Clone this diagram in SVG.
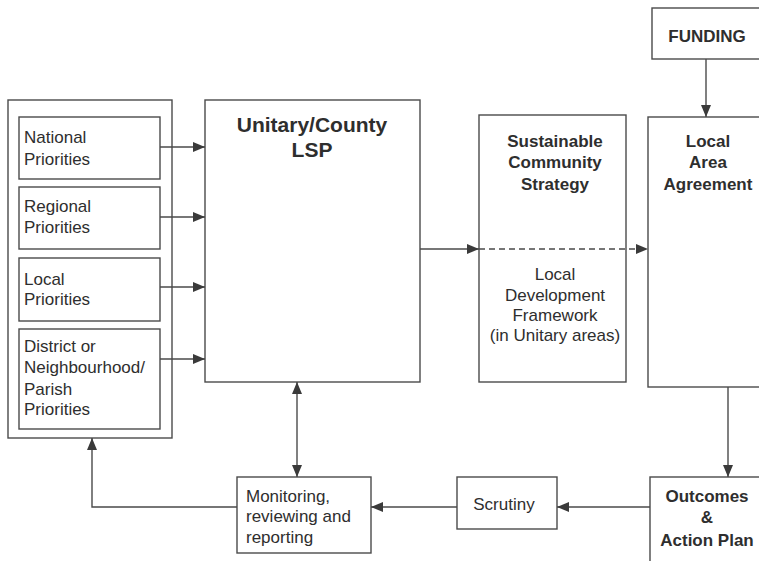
<svg xmlns="http://www.w3.org/2000/svg" width="759" height="561" viewBox="0 0 759 561">
<style>
.box{fill:none;stroke:#4a4a4a;stroke-width:1.4}
.ln{fill:none;stroke:#4a4a4a;stroke-width:1.4}
.t{font-family:"Liberation Sans",Arial,sans-serif;font-size:17px;fill:#2e2e2e}
.b{font-family:"Liberation Sans",Arial,sans-serif;font-size:17px;font-weight:bold;fill:#2e2e2e}
.c{text-anchor:middle}
</style>
<defs>
<marker id="ah" markerWidth="12" markerHeight="10" refX="12" refY="5" orient="auto" markerUnits="userSpaceOnUse">
<path d="M0,0 L12,5 L0,10 Z" fill="#3a3a3a"/>
</marker>
<marker id="as" markerWidth="12" markerHeight="10" refX="0" refY="5" orient="auto" markerUnits="userSpaceOnUse">
<path d="M12,0 L0,5 L12,10 Z" fill="#3a3a3a"/>
</marker>
</defs>
<rect width="759" height="561" fill="#ffffff"/>

<g id="priorities">
<rect class="box" x="8" y="100" width="164" height="338"/>
</g>
<g id="national">
<rect class="box" x="19" y="117" width="141" height="62"/>
<text class="t" x="24" y="143">National</text>
<text class="t" x="24" y="165">Priorities</text>
</g>
<g id="regional">
<rect class="box" x="19" y="187" width="141" height="62"/>
<text class="t" x="24" y="212">Regional</text>
<text class="t" x="24" y="233">Priorities</text>
</g>
<g id="local">
<rect class="box" x="19" y="258" width="141" height="63"/>
<text class="t" x="24" y="285">Local</text>
<text class="t" x="24" y="305">Priorities</text>
</g>
<g id="district">
<rect class="box" x="19" y="329" width="141" height="100"/>
<text class="t" x="24" y="352">District or</text>
<text class="t" x="24" y="373">Neighbourhood/</text>
<text class="t" x="24" y="395">Parish</text>
<text class="t" x="24" y="415">Priorities</text>
</g>
<g id="lsp">
<rect class="box" x="205" y="100" width="215" height="282"/>
<text class="b c" x="312" y="132" style="font-size:21px">Unitary/County</text>
<text class="b c" x="312" y="157" style="font-size:21px">LSP</text>
</g>
<g id="scs">
<rect class="box" x="479" y="115" width="147" height="267"/>
<text class="b c" x="555" y="147">Sustainable</text>
<text class="b c" x="555" y="168">Community</text>
<text class="b c" x="555" y="190">Strategy</text>
<text class="t c" x="555" y="280">Local</text>
<text class="t c" x="555" y="301">Development</text>
<text class="t c" x="555" y="321">Framework</text>
<text class="t c" x="555" y="341">(in Unitary areas)</text>
</g>
<g id="funding">
<rect class="box" x="652" y="8" width="120" height="51"/>
<text class="b c" x="707" y="42">FUNDING</text>
</g>
<g id="laa">
<rect class="box" x="648" y="117" width="130" height="270"/>
<text class="b c" x="708" y="147">Local</text>
<text class="b c" x="708" y="168">Area</text>
<text class="b c" x="708" y="190">Agreement</text>
</g>
<g id="outcomes">
<rect class="box" x="650" y="477" width="130" height="100"/>
<text class="b c" x="707" y="502">Outcomes</text>
<text class="b c" x="707" y="523">&amp;</text>
<text class="b c" x="707" y="546">Action Plan</text>
</g>
<g id="scrutiny">
<rect class="box" x="457" y="477" width="100" height="52"/>
<text class="t c" x="504" y="510">Scrutiny</text>
</g>
<g id="monitoring">
<rect class="box" x="237" y="477" width="134" height="76"/>
<text class="t" x="246" y="502">Monitoring,</text>
<text class="t" x="246" y="522">reviewing and</text>
<text class="t" x="246" y="543">reporting</text>
</g>

<g id="connectors">
<line class="ln" x1="160" y1="147" x2="205" y2="147" marker-end="url(#ah)"/>
<line class="ln" x1="160" y1="217" x2="205" y2="217" marker-end="url(#ah)"/>
<line class="ln" x1="160" y1="287" x2="205" y2="287" marker-end="url(#ah)"/>
<line class="ln" x1="160" y1="359" x2="205" y2="359" marker-end="url(#ah)"/>
<line class="ln" x1="420" y1="249" x2="479" y2="249" marker-end="url(#ah)"/>
<line class="ln" x1="479" y1="249" x2="648" y2="249" stroke-dasharray="6,4" marker-end="url(#ah)"/>
<line class="ln" x1="706" y1="59" x2="706" y2="117" marker-end="url(#ah)"/>
<line class="ln" x1="728" y1="387" x2="728" y2="477" marker-end="url(#ah)"/>
<line class="ln" x1="650" y1="507" x2="557" y2="507" marker-end="url(#ah)"/>
<line class="ln" x1="457" y1="507" x2="371" y2="507" marker-end="url(#ah)"/>
<line class="ln" x1="297" y1="382" x2="297" y2="477" marker-start="url(#as)" marker-end="url(#ah)"/>
<polyline class="ln" points="237,507 92,507 92,438" marker-end="url(#ah)"/>
</g>
</svg>
